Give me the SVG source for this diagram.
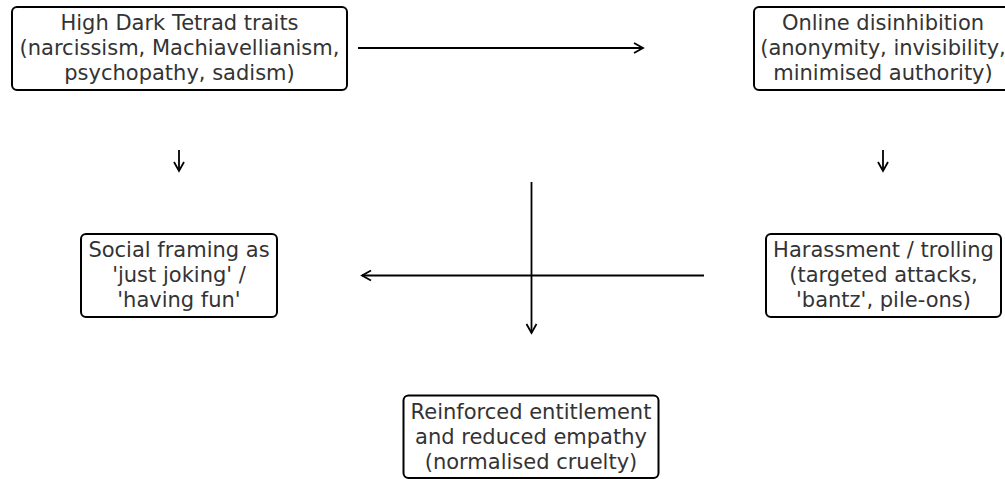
<svg xmlns="http://www.w3.org/2000/svg" width="1005" height="479" viewBox="0 0 1005 479">
<style>
.box{fill:#fff;stroke:#000;stroke-width:2}
.t{font-family:"DejaVu Sans",sans-serif;font-size:21px;fill:#333;text-anchor:middle}
.c{fill:none;stroke:#000;stroke-width:1.8}
</style>
<defs>
<marker id="ah" markerUnits="userSpaceOnUse" markerWidth="14" markerHeight="14" viewBox="-11 -7 14 14" refX="0" refY="0" orient="auto">
<path d="M-9,-5 L0,0 L-9,5" fill="none" stroke="#000" stroke-width="1.8" stroke-linejoin="miter"/>
</marker>
</defs>
<rect width="1005" height="479" fill="#fff"/>
<g id="connectors">
<line class="c" x1="358" y1="48" x2="643" y2="48" marker-end="url(#ah)"/>
<line class="c" x1="179" y1="150" x2="179" y2="171" marker-end="url(#ah)"/>
<line class="c" x1="883" y1="150" x2="883" y2="171" marker-end="url(#ah)"/>
<line class="c" x1="531.5" y1="182" x2="531.5" y2="333" marker-end="url(#ah)"/>
<line class="c" x1="704" y1="275.5" x2="362" y2="275.5" marker-end="url(#ah)"/>
</g>
<g id="n1">
<rect class="box" x="12" y="7" width="335" height="83" rx="5"/>
<text class="t" x="179.5" y="30">High Dark Tetrad traits</text>
<text class="t" x="179.5" y="55">(narcissism, Machiavellianism,</text>
<text class="t" x="179.5" y="80">psychopathy, sadism)</text>
</g>
<g id="n2">
<rect class="box" x="754" y="7" width="258" height="83" rx="5"/>
<text class="t" x="883" y="30">Online disinhibition</text>
<text class="t" x="883" y="55">(anonymity, invisibility,</text>
<text class="t" x="883" y="80">minimised authority)</text>
</g>
<g id="n3">
<rect class="box" x="81" y="234" width="196" height="83" rx="5"/>
<text class="t" x="179" y="257">Social framing as</text>
<text class="t" x="179" y="282">'just joking' /</text>
<text class="t" x="179" y="307">'having fun'</text>
</g>
<g id="n4">
<rect class="box" x="766" y="234" width="235" height="83" rx="5"/>
<text class="t" x="883.5" y="257">Harassment / trolling</text>
<text class="t" x="883.5" y="282">(targeted attacks,</text>
<text class="t" x="883.5" y="307">'bantz', pile-ons)</text>
</g>
<g id="n5">
<rect class="box" x="403.5" y="395.5" width="255" height="82.5" rx="5"/>
<text class="t" x="531" y="419">Reinforced entitlement</text>
<text class="t" x="531" y="444">and reduced empathy</text>
<text class="t" x="531" y="469">(normalised cruelty)</text>
</g>
</svg>
